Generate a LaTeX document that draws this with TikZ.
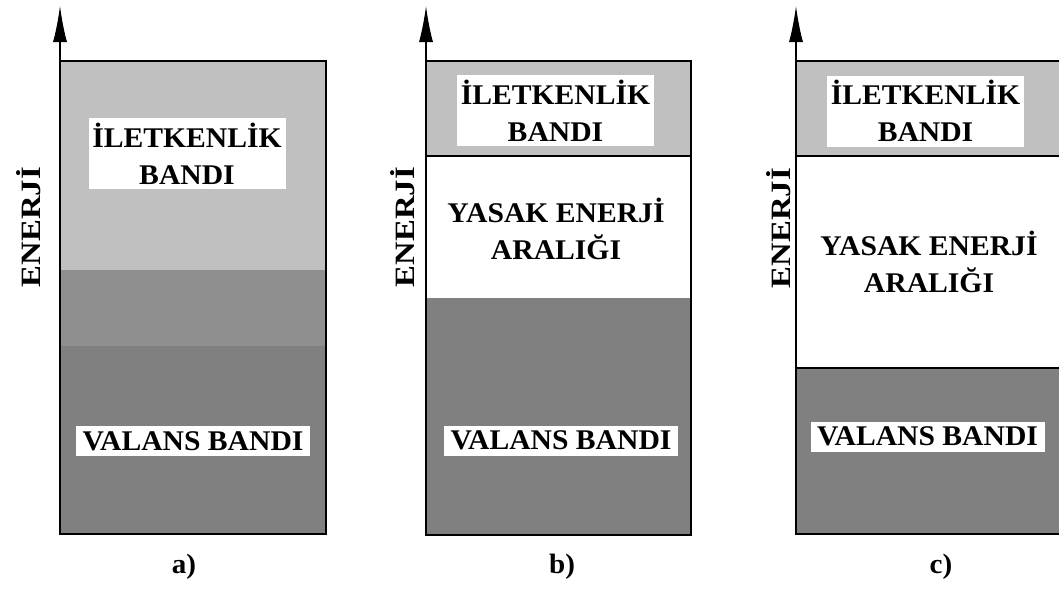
\documentclass[tikz,border=0pt]{standalone}
\usepackage{fontspec}
\setmainfont{Liberation Serif}[UprightFont={* Bold},FakeStretch=1.04]
\newfontfamily\axisfont{Liberation Serif}[UprightFont={* Bold},FakeStretch=1.17]
\usetikzlibrary{arrows.meta}
\definecolor{lightband}{HTML}{C0C0C0}
\definecolor{midband}{HTML}{8F8F8F}
\definecolor{darkband}{HTML}{808080}
\tikzset{
  border/.style={draw=black,line width=1.5pt},
  axisline/.style={draw=black,line width=1.3pt,-{Latex[length=36pt,width=14pt]}},
  condlabel/.style={fill=white,inner sep=0pt,minimum width=197pt,minimum height=71pt,align=center,font=\fontsize{28.5}{37}\selectfont},
  vallabel/.style={fill=white,inner sep=0pt,minimum width=234pt,minimum height=30pt,align=center,font=\fontsize{28.5}{30}\selectfont},
  gaplabel/.style={inner sep=0pt,align=center,font=\fontsize{28.5}{37}\selectfont},
  enlabel/.style={rotate=90,inner sep=0pt,font=\axisfont\fontsize{28}{30}\selectfont},
  caplabel/.style={inner sep=0pt,font=\fontsize{28}{30}\selectfont}
}
\begin{document}
\begin{tikzpicture}[x=1pt,y=-1pt]
\useasboundingbox[fill=white] (0,0) rectangle (1059,590);

% ---------- panel a ----------
\fill[lightband] (60,61) rectangle (326,270);
\fill[midband] (60,270) rectangle (326,346);
\fill[darkband] (60,346) rectangle (326,534);
\draw[border] (60,61) rectangle (326,534);
\coordinate (atop) at (60,61);
\coordinate (atip) at (60,6);
\draw[axisline] (atop) -- (atip);
\node[condlabel] (acond) at (187,153.5) {İLETKENLİK\\BANDI};
\node[vallabel] (aval) at (193,441) {VALANS BANDI};
\node[enlabel] (aen) at (29,227) {ENERJİ};
\node[caplabel] (acap) at (184,567) {a)};

% ---------- panel b ----------
\fill[lightband] (426,61) rectangle (691,156);
\fill[darkband] (426,298) rectangle (691,535);
\draw[border] (426,61) rectangle (691,535);
\draw[border] (426,156) -- (691,156);
\coordinate (btop) at (426,61);
\coordinate (btip) at (426,6);
\draw[axisline] (btop) -- (btip);
\node[condlabel] (bcond) at (555.5,110.5) {İLETKENLİK\\BANDI};
\node[gaplabel] (bgap) at (556,229) {YASAK ENERJİ\\ARALIĞI};
\node[vallabel] (bval) at (561,440.5) {VALANS BANDI};
\node[enlabel] (ben) at (403,227) {ENERJİ};
\node[caplabel] (bcap) at (562,567) {b)};

% ---------- panel c ----------
\fill[lightband] (796,61) rectangle (1062,156);
\fill[darkband] (796,368) rectangle (1062,534);
\draw[border] (796,61) rectangle (1062,534);
\draw[border] (796,156) -- (1062,156);
\draw[border] (796,368) -- (1062,368);
\coordinate (ctop) at (796,61);
\coordinate (ctip) at (796,6);
\draw[axisline] (ctop) -- (ctip);
\node[condlabel] (ccond) at (925.5,111) {İLETKENLİK\\BANDI};
\node[gaplabel] (cgap) at (929,262) {YASAK ENERJİ\\ARALIĞI};
\node[vallabel] (cval) at (927.5,436.5) {VALANS BANDI};
\node[enlabel] (cen) at (779,228) {ENERJİ};
\node[caplabel] (ccap) at (941,567) {c)};
\end{tikzpicture}
\end{document}
